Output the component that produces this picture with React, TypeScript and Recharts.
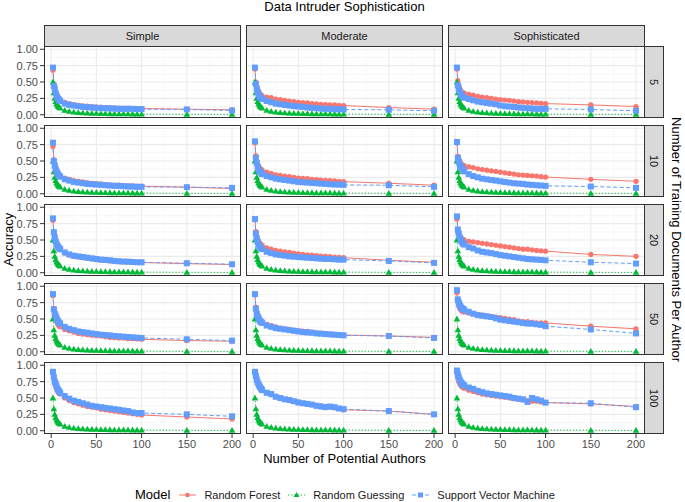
import { CartesianGrid, Line, LineChart, XAxis, YAxis } from "recharts";

const RED = "#F8766D";
const GREEN = "#00BA38";
const BLUE = "#619CFF";
const FONT = '"Liberation Sans", Arial, sans-serif';

const SOPHISTICATION = ["Simple", "Moderate", "Sophisticated"];
const TRAINING_DOCS = ["5", "10", "20", "50", "100"];

const X_TICKS = [0, 50, 100, 150, 200];
const Y_TICKS = [0, 0.25, 0.5, 0.75, 1];

// number of potential authors
const AUTHORS = [2, 3, 4, 5, 6, 7, 8, 9, 10, 15, 20, 25, 30, 35, 40, 45, 50, 55, 60, 65, 70, 75, 80, 85, 90, 95, 100, 150, 200];

// random guessing is the same in every panel
const GUESS = [0.5, 0.333, 0.25, 0.2, 0.167, 0.143, 0.125, 0.111, 0.1, 0.067, 0.05, 0.04, 0.033, 0.029, 0.025, 0.022, 0.02, 0.018, 0.017, 0.015, 0.014, 0.013, 0.0125, 0.012, 0.011, 0.0105, 0.01, 0.0067, 0.005];

// one row per training-doc count (5, 10, 20, 50, 100)
const RF_SIMPLE = [
  [0.68, 0.47, 0.4, 0.35, 0.31, 0.28, 0.26, 0.24, 0.23, 0.19, 0.17, 0.155, 0.145, 0.135, 0.13, 0.125, 0.12, 0.115, 0.11, 0.11, 0.105, 0.1, 0.1, 0.1, 0.095, 0.095, 0.095, 0.085, 0.075],
  [0.72, 0.52, 0.45, 0.4, 0.36, 0.33, 0.31, 0.29, 0.28, 0.24, 0.22, 0.2, 0.19, 0.18, 0.17, 0.16, 0.155, 0.15, 0.14, 0.135, 0.13, 0.13, 0.125, 0.12, 0.12, 0.115, 0.115, 0.1, 0.08],
  [0.8, 0.6, 0.52, 0.47, 0.43, 0.4, 0.38, 0.36, 0.35, 0.3, 0.27, 0.25, 0.24, 0.23, 0.22, 0.21, 0.2, 0.195, 0.19, 0.18, 0.175, 0.17, 0.17, 0.165, 0.16, 0.16, 0.155, 0.14, 0.125],
  [0.86, 0.66, 0.56, 0.5, 0.46, 0.43, 0.41, 0.39, 0.38, 0.34, 0.32, 0.3, 0.28, 0.27, 0.26, 0.25, 0.245, 0.24, 0.23, 0.22, 0.215, 0.21, 0.21, 0.2, 0.2, 0.195, 0.19, 0.17, 0.16],
  [0.88, 0.8, 0.72, 0.68, 0.64, 0.61, 0.59, 0.57, 0.56, 0.5, 0.46, 0.43, 0.41, 0.39, 0.37, 0.36, 0.35, 0.33, 0.32, 0.31, 0.3, 0.29, 0.28, 0.27, 0.26, 0.25, 0.24, 0.21, 0.18],
];
const SVM_SIMPLE = [
  [0.72, 0.44, 0.4, 0.33, 0.29, 0.26, 0.24, 0.22, 0.21, 0.17, 0.15, 0.14, 0.13, 0.12, 0.115, 0.11, 0.105, 0.1, 0.1, 0.095, 0.095, 0.09, 0.09, 0.09, 0.09, 0.085, 0.085, 0.08, 0.065],
  [0.78, 0.5, 0.43, 0.38, 0.34, 0.31, 0.29, 0.27, 0.26, 0.22, 0.2, 0.18, 0.17, 0.16, 0.15, 0.145, 0.14, 0.135, 0.13, 0.125, 0.12, 0.12, 0.115, 0.11, 0.11, 0.105, 0.105, 0.1, 0.09],
  [0.83, 0.62, 0.54, 0.48, 0.44, 0.41, 0.39, 0.37, 0.36, 0.31, 0.28, 0.26, 0.25, 0.24, 0.23, 0.22, 0.21, 0.2, 0.195, 0.19, 0.18, 0.175, 0.17, 0.17, 0.165, 0.16, 0.16, 0.145, 0.13],
  [0.88, 0.65, 0.58, 0.55, 0.51, 0.48, 0.46, 0.44, 0.43, 0.38, 0.35, 0.33, 0.31, 0.3, 0.29, 0.28, 0.27, 0.26, 0.255, 0.25, 0.24, 0.235, 0.23, 0.225, 0.22, 0.215, 0.21, 0.19, 0.17],
  [0.9, 0.82, 0.75, 0.72, 0.68, 0.64, 0.62, 0.6, 0.58, 0.53, 0.49, 0.46, 0.44, 0.42, 0.4, 0.38, 0.37, 0.36, 0.35, 0.34, 0.33, 0.32, 0.31, 0.3, 0.28, 0.27, 0.27, 0.25, 0.22],
];
const RF_MODERATE = [
  [0.7, 0.5, 0.43, 0.38, 0.35, 0.33, 0.31, 0.3, 0.29, 0.27, 0.26, 0.24, 0.23, 0.22, 0.21, 0.2, 0.19, 0.185, 0.18, 0.17, 0.165, 0.16, 0.155, 0.15, 0.15, 0.145, 0.14, 0.11, 0.085],
  [0.78, 0.58, 0.5, 0.45, 0.42, 0.4, 0.38, 0.37, 0.36, 0.33, 0.31, 0.29, 0.28, 0.27, 0.26, 0.25, 0.24, 0.235, 0.23, 0.22, 0.215, 0.21, 0.205, 0.2, 0.195, 0.19, 0.185, 0.16, 0.13],
  [0.82, 0.63, 0.56, 0.51, 0.48, 0.46, 0.44, 0.43, 0.42, 0.38, 0.36, 0.34, 0.33, 0.32, 0.31, 0.3, 0.29, 0.28, 0.275, 0.27, 0.26, 0.255, 0.25, 0.245, 0.24, 0.235, 0.23, 0.19, 0.16],
  [0.88, 0.68, 0.6, 0.56, 0.53, 0.5, 0.48, 0.47, 0.46, 0.42, 0.4, 0.38, 0.36, 0.35, 0.34, 0.33, 0.32, 0.315, 0.31, 0.3, 0.29, 0.285, 0.28, 0.27, 0.265, 0.26, 0.255, 0.24, 0.22],
  [0.88, 0.82, 0.76, 0.72, 0.69, 0.67, 0.65, 0.63, 0.62, 0.58, 0.55, 0.52, 0.5, 0.48, 0.46, 0.45, 0.44, 0.42, 0.41, 0.4, 0.39, 0.38, 0.37, 0.36, 0.35, 0.34, 0.32, 0.3, 0.25],
];
const SVM_MODERATE = [
  [0.72, 0.47, 0.4, 0.35, 0.31, 0.28, 0.26, 0.25, 0.24, 0.21, 0.19, 0.17, 0.16, 0.15, 0.14, 0.13, 0.125, 0.12, 0.11, 0.105, 0.1, 0.095, 0.09, 0.09, 0.085, 0.085, 0.08, 0.075, 0.06],
  [0.8, 0.55, 0.47, 0.41, 0.37, 0.35, 0.33, 0.31, 0.3, 0.27, 0.25, 0.23, 0.22, 0.21, 0.2, 0.19, 0.18, 0.175, 0.17, 0.165, 0.16, 0.155, 0.15, 0.145, 0.14, 0.14, 0.135, 0.13, 0.105],
  [0.82, 0.6, 0.52, 0.47, 0.43, 0.4, 0.38, 0.37, 0.36, 0.32, 0.3, 0.28, 0.27, 0.26, 0.25, 0.245, 0.24, 0.235, 0.23, 0.225, 0.22, 0.215, 0.21, 0.21, 0.205, 0.2, 0.2, 0.18, 0.15],
  [0.88, 0.66, 0.58, 0.54, 0.51, 0.48, 0.46, 0.45, 0.44, 0.4, 0.38, 0.36, 0.35, 0.34, 0.33, 0.32, 0.31, 0.3, 0.295, 0.29, 0.28, 0.275, 0.27, 0.265, 0.26, 0.255, 0.25, 0.24, 0.21],
  [0.9, 0.84, 0.78, 0.74, 0.71, 0.68, 0.66, 0.64, 0.62, 0.58, 0.56, 0.52, 0.5, 0.48, 0.47, 0.45, 0.43, 0.42, 0.41, 0.4, 0.38, 0.37, 0.36, 0.37, 0.36, 0.34, 0.33, 0.3, 0.25],
];
const RF_SOPHISTICATED = [
  [0.7, 0.52, 0.45, 0.4, 0.37, 0.35, 0.34, 0.33, 0.33, 0.31, 0.3, 0.28, 0.27, 0.26, 0.25, 0.24, 0.23, 0.225, 0.22, 0.21, 0.2, 0.195, 0.19, 0.185, 0.18, 0.175, 0.17, 0.15, 0.125],
  [0.78, 0.57, 0.52, 0.5, 0.47, 0.45, 0.44, 0.43, 0.43, 0.41, 0.4, 0.38, 0.37, 0.36, 0.35, 0.34, 0.33, 0.32, 0.31, 0.3, 0.29, 0.285, 0.28, 0.275, 0.27, 0.26, 0.255, 0.22, 0.19],
  [0.82, 0.62, 0.58, 0.56, 0.54, 0.52, 0.51, 0.51, 0.5, 0.48, 0.47, 0.46, 0.45, 0.44, 0.43, 0.42, 0.41, 0.4, 0.39, 0.38, 0.37, 0.36, 0.36, 0.35, 0.34, 0.335, 0.33, 0.28, 0.25],
  [0.9, 0.76, 0.7, 0.67, 0.65, 0.63, 0.62, 0.61, 0.61, 0.59, 0.58, 0.57, 0.56, 0.55, 0.54, 0.53, 0.52, 0.51, 0.5, 0.49, 0.47, 0.46, 0.46, 0.45, 0.44, 0.44, 0.44, 0.39, 0.35],
  [0.88, 0.8, 0.75, 0.72, 0.7, 0.68, 0.67, 0.66, 0.65, 0.62, 0.6, 0.58, 0.56, 0.55, 0.54, 0.53, 0.52, 0.51, 0.5, 0.49, 0.48, 0.47, 0.46, 0.45, 0.45, 0.44, 0.43, 0.41, 0.37],
];
const SVM_SOPHISTICATED = [
  [0.72, 0.45, 0.4, 0.36, 0.32, 0.3, 0.28, 0.27, 0.26, 0.24, 0.22, 0.2, 0.19, 0.18, 0.17, 0.16, 0.14, 0.13, 0.125, 0.12, 0.11, 0.105, 0.1, 0.095, 0.09, 0.09, 0.09, 0.08, 0.06],
  [0.79, 0.55, 0.49, 0.45, 0.42, 0.4, 0.38, 0.36, 0.34, 0.3, 0.27, 0.25, 0.23, 0.22, 0.21, 0.2, 0.19, 0.18, 0.17, 0.16, 0.155, 0.15, 0.14, 0.135, 0.13, 0.125, 0.12, 0.11, 0.09],
  [0.86, 0.66, 0.6, 0.55, 0.51, 0.48, 0.46, 0.44, 0.43, 0.39, 0.37, 0.34, 0.32, 0.31, 0.3, 0.285, 0.27, 0.26, 0.25, 0.24, 0.23, 0.22, 0.21, 0.205, 0.2, 0.195, 0.19, 0.16, 0.14],
  [0.94, 0.8, 0.75, 0.72, 0.69, 0.67, 0.66, 0.65, 0.64, 0.61, 0.58, 0.56, 0.55, 0.54, 0.53, 0.51, 0.49, 0.48, 0.47, 0.46, 0.45, 0.44, 0.43, 0.43, 0.42, 0.41, 0.39, 0.34, 0.28],
  [0.92, 0.86, 0.82, 0.78, 0.75, 0.73, 0.71, 0.7, 0.69, 0.66, 0.64, 0.61, 0.59, 0.57, 0.56, 0.55, 0.54, 0.53, 0.52, 0.5, 0.49, 0.48, 0.44, 0.5, 0.48, 0.46, 0.43, 0.42, 0.36],
];

const RF_BY_COL = [RF_SIMPLE, RF_MODERATE, RF_SOPHISTICATED];
const SVM_BY_COL = [SVM_SIMPLE, SVM_MODERATE, SVM_SOPHISTICATED];

const COL_LEFT = [44, 246, 448];
const ROW_TOP = [46, 125, 204, 283, 362];
const PANEL_W = 197;
const PANEL_H = 72;
const Y_AXIS_W = 44;
const X_AXIS_H = 20;
const PAD_V = 7;
const PAD_H = 12;

const circleDot = (p: any) => (
  <circle key={p.index} cx={p.cx} cy={p.cy} r={2.6} fill={RED} />
);
const triangleDot = (p: any) => (
  <path
    key={p.index}
    d={`M${p.cx},${p.cy - 3.4} L${p.cx + 3.3},${p.cy + 2.4} L${p.cx - 3.3},${p.cy + 2.4} Z`}
    fill={GREEN}
  />
);
const squareDot = (p: any) => (
  <rect key={p.index} x={p.cx - 3} y={p.cy - 3} width={6} height={6} fill={BLUE} />
);

const axisTick = { fill: "#4D4D4D", fontSize: 11, fontFamily: FONT };

function Panel({ row, col }: { row: number; col: number }) {
  const showY = col === 0;
  const showX = row === TRAINING_DOCS.length - 1;
  const yw = showY ? Y_AXIS_W : 0;
  const w = PANEL_W + yw + 2 * PAD_H;
  const h = PANEL_H + 2 * PAD_V + (showX ? X_AXIS_H : 0);
  const rf = RF_BY_COL[col][row];
  const svm = SVM_BY_COL[col][row];
  const data = AUTHORS.map((x, i) => ({ x, rf: rf[i], guess: GUESS[i], svm: svm[i] }));

  return (
    <div style={{ position: "absolute", left: COL_LEFT[col] - yw - PAD_H, top: ROW_TOP[row] - PAD_V }}>
      <LineChart
        width={w}
        height={h}
        data={data}
        margin={{ top: PAD_V, right: PAD_H, bottom: PAD_V, left: PAD_H }}
      >
        <CartesianGrid
          horizontalValues={[0.125, 0.375, 0.625, 0.875]}
          verticalValues={[25, 75, 125, 175]}
          stroke="#F3F3F3"
          strokeWidth={0.7}
        />
        <CartesianGrid
          horizontalValues={Y_TICKS}
          verticalValues={X_TICKS}
          stroke="#EBEBEB"
          strokeWidth={1.1}
        />
        <XAxis
          type="number"
          dataKey="x"
          domain={[-7.9, 209.9]}
          ticks={X_TICKS}
          interval={0}
          allowDataOverflow
          hide={!showX}
          height={X_AXIS_H}
          tick={axisTick}
          tickSize={4}
          tickLine={{ stroke: "#333333" }}
          axisLine={false}
        />
        <YAxis
          type="number"
          domain={[-0.05, 1.05]}
          ticks={Y_TICKS}
          interval={0}
          allowDataOverflow
          hide={!showY}
          width={Y_AXIS_W}
          tick={axisTick}
          tickSize={4}
          tickLine={{ stroke: "#333333" }}
          axisLine={false}
          tickFormatter={(v) => Number(v).toFixed(2)}
        />
        <Line dataKey="rf" stroke={RED} strokeWidth={1} dot={circleDot} isAnimationActive={false} />
        <Line dataKey="guess" stroke={GREEN} strokeWidth={1} strokeDasharray="1.2 2" dot={triangleDot} isAnimationActive={false} />
        <Line dataKey="svm" stroke={BLUE} strokeWidth={1} strokeDasharray="4 2.5" dot={squareDot} isAnimationActive={false} />
      </LineChart>
      <div
        style={{
          position: "absolute",
          left: yw + PAD_H,
          top: PAD_V,
          width: PANEL_W,
          height: PANEL_H,
          border: "1px solid #333333",
          boxSizing: "border-box",
          pointerEvents: "none",
        }}
      />
    </div>
  );
}

function LegendKey({ color, dash, shape }: { color: string; dash?: string; shape: string }) {
  return (
    <svg width={17} height={10} style={{ display: "block" }}>
      <line x1={0} y1={5} x2={17} y2={5} stroke={color} strokeWidth={1} strokeDasharray={dash} />
      {shape === "circle" && <circle cx={8.5} cy={5} r={2.3} fill={color} />}
      {shape === "triangle" && <path d="M8.5,2 L11.3,7 L5.7,7 Z" fill={color} />}
      {shape === "square" && <rect x={6} y={2.5} width={5} height={5} fill={color} />}
    </svg>
  );
}

export default function App() {
  const text = { position: "absolute" as const, fontFamily: FONT };
  return (
    <div style={{ position: "absolute", left: 0, top: 0, width: 685, height: 502, background: "#fff", fontFamily: FONT }}>
      <div style={{ ...text, left: 44, width: 601, top: -1, textAlign: "center", fontSize: 13, color: "#000" }}>
        Data Intruder Sophistication
      </div>

      {SOPHISTICATION.map((name, c) => (
        <div
          key={name}
          style={{
            ...text,
            left: COL_LEFT[c],
            top: 25,
            width: PANEL_W,
            height: 22,
            background: "#D9D9D9",
            border: "1px solid #333333",
            boxSizing: "border-box",
            fontSize: 11,
            color: "#1A1A1A",
            display: "flex",
            alignItems: "center",
            justifyContent: "center",
          }}
        >
          {name}
        </div>
      ))}

      {TRAINING_DOCS.map((docs, r) => (
        <div
          key={docs}
          style={{
            ...text,
            left: COL_LEFT[2] + PANEL_W - 1,
            top: ROW_TOP[r],
            width: 20,
            height: PANEL_H,
            background: "#D9D9D9",
            border: "1px solid #333333",
            boxSizing: "border-box",
            fontSize: 11,
            color: "#1A1A1A",
            display: "flex",
            alignItems: "center",
            justifyContent: "center",
          }}
        >
          <span style={{ writingMode: "vertical-rl" }}>{docs}</span>
        </div>
      ))}

      {TRAINING_DOCS.map((_, r) =>
        SOPHISTICATION.map((__, c) => <Panel key={`${r}-${c}`} row={r} col={c} />)
      )}

      <div
        style={{
          ...text,
          left: 8 - 50,
          top: 240 - 8,
          width: 100,
          textAlign: "center",
          fontSize: 13,
          transform: "rotate(-90deg)",
        }}
      >
        Accuracy
      </div>
      <div
        style={{
          ...text,
          left: 676 - 150,
          top: 240 - 8,
          width: 300,
          textAlign: "center",
          fontSize: 13,
          transform: "rotate(90deg)",
        }}
      >
        Number of Training Documents Per Author
      </div>
      <div style={{ ...text, left: 44, width: 601, top: 451, textAlign: "center", fontSize: 13 }}>
        Number of Potential Authors
      </div>

      <div style={{ ...text, left: 135, top: 487, display: "flex", alignItems: "center", fontSize: 11, color: "#1A1A1A" }}>
        <span style={{ fontSize: 13, marginRight: 9, color: "#000" }}>Model</span>
        <LegendKey color={RED} shape="circle" />
        <span style={{ marginLeft: 8, marginRight: 8 }}>Random Forest</span>
        <LegendKey color={GREEN} dash="1.2 2" shape="triangle" />
        <span style={{ marginLeft: 8, marginRight: 8 }}>Random Guessing</span>
        <LegendKey color={BLUE} dash="4 2.5" shape="square" />
        <span style={{ marginLeft: 8 }}>Support Vector Machine</span>
      </div>
    </div>
  );
}
